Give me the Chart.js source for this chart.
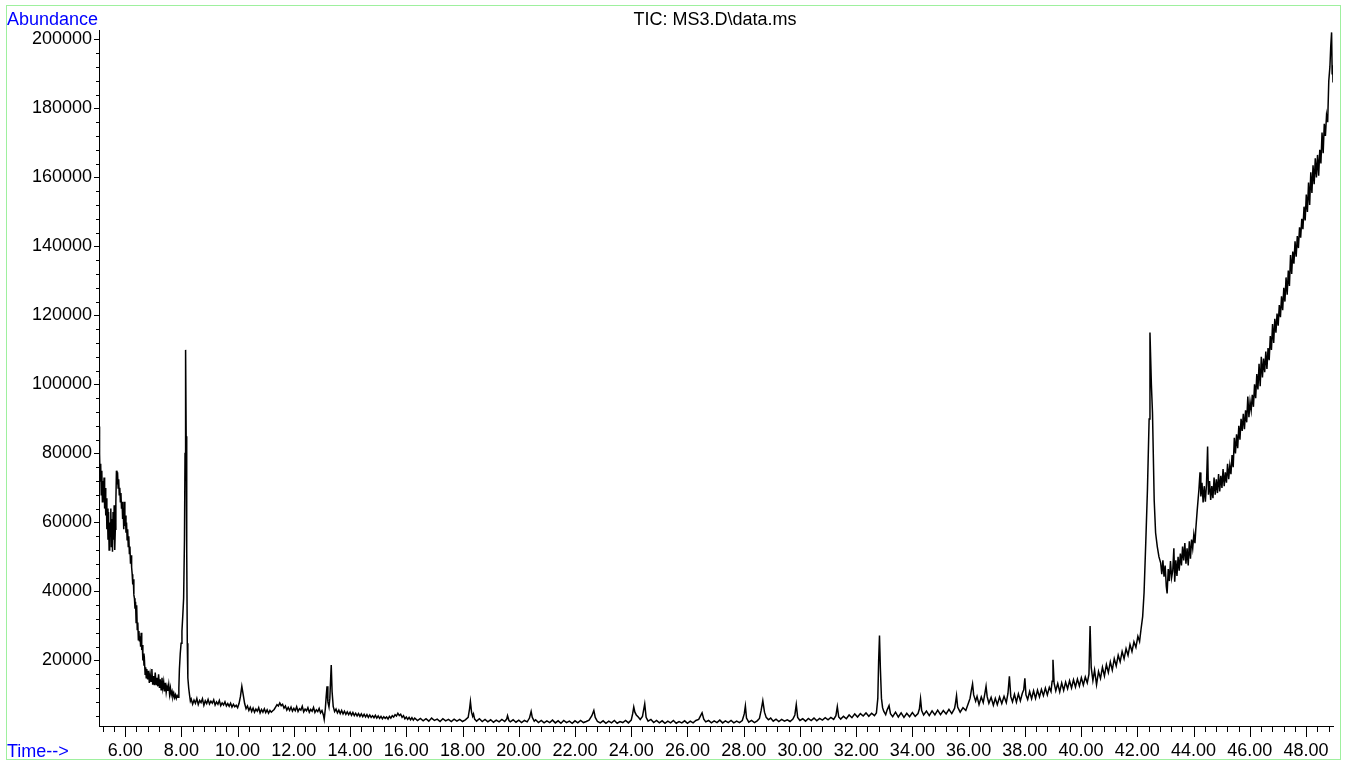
<!DOCTYPE html>
<html>
<head>
<meta charset="utf-8">
<script src="https://cdn.jsdelivr.net/npm/chart.js@4.4.1/dist/chart.umd.min.js"></script>
<style>
  html, body { margin: 0; padding: 0; background: #ffffff; }
  canvas { display: block; }
</style>
</head>
<body>
<canvas id="c" width="1346" height="765"></canvas>
<script>
// ---------------- DATA (retention time [min], abundance) ----------------
const chartTitle = "TIC: MS3.D\\data.ms";
const yAxisTitle = "Abundance";
const xAxisTitle = "Time-->";

const yTickValues = [20000, 40000, 60000, 80000, 100000, 120000, 140000, 160000, 180000, 200000];
const xTickValues = [6, 8, 10, 12, 14, 16, 18, 20, 22, 24, 26, 28, 30, 32, 34, 36, 38, 40, 42, 44, 46, 48];

const solventFront = [
  [5.07,87800],[5.09,80000],[5.11,72000],[5.13,77000],[5.15,68000],[5.17,75000],[5.19,66000],[5.21,72000],
  [5.23,69000],[5.25,73000],[5.27,64000],[5.29,70000],[5.31,62000],[5.33,67000],[5.35,58000],[5.37,64000],
  [5.39,55000],[5.41,63000],[5.43,52000],[5.45,60000],[5.47,56000],[5.49,64000],[5.51,53000],[5.53,61000],
  [5.55,51500],[5.57,63000],[5.59,55000],[5.61,65000],[5.63,52000],[5.65,58000],[5.67,66000],[5.69,75000],
  [5.71,71000],[5.73,74500],[5.75,70000],[5.77,72500],[5.79,68000],[5.81,70000],[5.83,66000],[5.85,68500],
  [5.87,64000],[5.89,66000],[5.91,61000],[5.93,64000],[5.95,58000],[5.97,66000],[5.99,59000],[6.01,62000],
  [6.03,57000],[6.05,60000],[6.07,55000],[6.09,58000],[6.11,53000],[6.13,56000],[6.15,51000],[6.17,53000],
  [6.19,48000],[6.21,50500],[6.23,47000],[6.25,45000],[6.27,42000],[6.29,43500],[6.31,39000],[6.33,38000],
  [6.35,35000],[6.37,37000],[6.39,31000],[6.41,36000],[6.43,29000],[6.45,31000],[6.47,26000],[6.49,28500],
  [6.51,25500],[6.53,27000],[6.55,24000],[6.57,28000],[6.59,23000],[6.61,24500],[6.63,20000],[6.65,22000],
  [6.67,18500],[6.69,19500],[6.71,16000],[6.73,18000],[6.75,15000],[6.77,17500],[6.80,14500],[6.83,17000],
  [6.86,13500],[6.89,16000],[6.92,14000],[6.95,17500],[6.98,13000],[7.01,15500],[7.04,12800],[7.07,16500],
  [7.10,13000],[7.13,15000],[7.16,12500],[7.19,16000],[7.22,12000],[7.25,14500],[7.28,11500],[7.31,15000],
  [7.34,12000],[7.37,13800],[7.40,11000],[7.43,13500],[7.46,10800],[7.49,12500],[7.52,11200],[7.55,13000],
  [7.58,10200],[7.61,12000],[7.64,10000],[7.67,11000],[7.70,9500],[7.73,10500],[7.76,9200],[7.79,10000],
  [7.82,9000],[7.85,9800],[7.88,9300]
];

const earlyRegion = [
  [7.91,12000],[7.93,17500],[7.96,22000],[7.99,25000],[8.02,28500],[8.05,33000],[8.08,38000],[8.11,55000],
  [8.13,80000],[8.15,110000],[8.17,85000],[8.19,52000],[8.21,25000],[8.23,15000],[8.26,12000],[8.29,10000],
  [8.32,8200],[8.35,8800],[8.40,7300],[8.45,8500],[8.50,7600],[8.55,9000],[8.60,7200],[8.65,8400],
  [8.70,7800],[8.75,8900],[8.80,7000],[8.85,8300],[8.90,7500],[8.95,8700],[9.00,7400],[9.05,8200],
  [9.10,7600],[9.15,8600],[9.20,7100],[9.25,8000],[9.30,7300],[9.35,8400],[9.40,6900],[9.45,7700],
  [9.50,7100],[9.55,8000],[9.60,6800],[9.65,7500],[9.70,6700],[9.75,7600],[9.80,6500],[9.85,7300],
  [9.90,6600],[9.95,7000],[10.00,6300],[10.05,7500],[10.10,9500],[10.15,12500],[10.20,10000],[10.25,7500],
  [10.30,6000],[10.35,6800],[10.40,5500],[10.45,6400],[10.50,5200],[10.55,6200],[10.60,5000],[10.65,5900],
  [10.70,5300],[10.75,6300],[10.80,4800],[10.85,5800],[10.90,5000],[10.95,6000],[11.00,4900],[11.05,5700],
  [11.10,4700],[11.15,5500],[11.20,5000],[11.25,5400],[11.30,5800],[11.35,6500],[11.40,7200],[11.45,6800],
  [11.50,7700],[11.55,6900],[11.60,7300],[11.65,6200],[11.70,6800],[11.75,5600],[11.80,6400],[11.85,5500],
  [11.90,6500],[11.95,5300],[12.00,6100],[12.05,5400],[12.10,6600],[12.15,5200],[12.20,6000],[12.25,5600],
  [12.30,6700],[12.35,5100],[12.40,5900],[12.45,5400],[12.50,6300],[12.55,5000],[12.60,5800],[12.65,5300],
  [12.70,6400],[12.75,4900],[12.80,5700],[12.85,5200],[12.90,6100],[12.95,4800],[13.00,5500],[13.05,4200],
  [13.08,2900],[13.12,6000],[13.15,9500],[13.18,12500],[13.21,8000],[13.25,6500],[13.28,9000],[13.31,15000],
  [13.33,18700],[13.36,11000],[13.40,6700],[13.45,5200],[13.50,5900],[13.55,4800],[13.60,5600],[13.65,4600],
  [13.70,5500],[13.75,4500],[13.80,5300],[13.85,4400],[13.90,5100],[13.95,4300],[14.00,5000],[14.05,4100],
  [14.10,4900],[14.15,4000],[14.20,4700],[14.25,3900],[14.30,4600],[14.35,3800],[14.40,4500],[14.45,3700],
  [14.50,4400],[14.55,3600],[14.60,4300],[14.65,3500],[14.70,4200],[14.75,3500],[14.80,4000],[14.85,3400],
  [14.90,4100],[14.95,3300],[15.00,3900],[15.05,3200],[15.10,3800],[15.15,3100],[15.20,3700],[15.25,3200],
  [15.30,3600],[15.35,3000],[15.40,3800],[15.45,3300],[15.50,4000],[15.55,3600],[15.60,4300],[15.65,3900],
  [15.70,4700],[15.75,4000],[15.80,4400],[15.85,3500],[15.90,4000],[15.95,3100],[16.00,3600],[16.05,2900],
  [16.10,3500],[16.15,2800],[16.20,3400],[16.25,2700]
];

const midRegion = [
  [16.30,3300],[16.40,2600],[16.50,3200],[16.60,2500],[16.70,3100],[16.80,2400],[16.90,3300],[17.00,2600],
  [17.10,3000],[17.20,2300],[17.30,3100],[17.40,2500],[17.50,2900],[17.60,2300],[17.70,3000],[17.80,2400],
  [17.90,2900],[18.00,2300],[18.10,2800],[18.20,3500],[18.25,6000],[18.28,8100],[18.32,5000],[18.36,3800],
  [18.39,4500],[18.43,3000],[18.50,2400],[18.60,3100],[18.70,2300],[18.80,2900],[18.90,2200],[19.00,2800],
  [19.10,2100],[19.20,2700],[19.30,2200],[19.40,2900],[19.50,2300],[19.57,3000],[19.60,4000],[19.65,2600],
  [19.70,2200],[19.80,2800],[19.90,2100],[20.00,2700],[20.10,2000],[20.20,2600],[20.30,2200],[20.38,3300],
  [20.44,5200],[20.48,3500],[20.55,2400],[20.60,2800],[20.70,2000],[20.80,2600],[20.90,1900],[21.00,2500],
  [21.10,2000],[21.20,2700],[21.30,1900],[21.40,2500],[21.50,1800],[21.60,2600],[21.70,2000],[21.80,2400],
  [21.90,1800],[22.00,2500],[22.10,1900],[22.20,2600],[22.30,2000],[22.40,2300],[22.50,2700],[22.60,4000],
  [22.67,5500],[22.72,3500],[22.80,2300],[22.90,1900],[23.00,2500],[23.10,1800],[23.20,2400],[23.30,1900],
  [23.40,2600],[23.50,1800],[23.60,2300],[23.70,2000],[23.80,2600],[23.90,1900],[24.00,2700],[24.05,4500],
  [24.09,6500],[24.13,5000],[24.18,4200],[24.25,3600],[24.32,2900],[24.40,3800],[24.48,7400],[24.53,3500],
  [24.60,2400],[24.70,2900],[24.80,2000],[24.90,2600],[25.00,1900],[25.10,2500],[25.20,1800],[25.30,2400],
  [25.40,1900],[25.50,2600],[25.60,1800],[25.70,2300],[25.80,1900],[25.90,2500],[26.00,1800],[26.10,2400],
  [26.20,1900],[26.30,2600],[26.40,2900],[26.52,4800],[26.58,3000],[26.65,2200],[26.75,2600],[26.85,1900],
  [26.95,2500],[27.05,2000],[27.15,2700],[27.25,1900],[27.35,2500],[27.45,2000],[27.55,2600],[27.65,1900],
  [27.75,2400],[27.85,2000],[27.95,2600],[28.02,4500],[28.06,6800],[28.10,3300],[28.18,2100],[28.28,2600],
  [28.38,2000],[28.48,2500],[28.56,3200],[28.62,5500],[28.68,8300],[28.74,5000],[28.80,3500],[28.88,2800],
  [28.96,3300],[29.05,2400],[29.15,3000],[29.25,2300],[29.35,2900],[29.45,2400],[29.55,2800],[29.65,2300],
  [29.75,3000],[29.82,4200],[29.87,7200],[29.92,3500],[30.00,2600],[30.10,3100],[30.20,2400],[30.30,3200],
  [30.40,2600],[30.50,3300],[30.60,2500],[30.70,3200],[30.80,2700],[30.90,3400],[31.00,2800],[31.10,3500],
  [31.20,2900],[31.28,4000],[31.33,6600],[31.38,3600],[31.45,3000],[31.55,3800],[31.65,3100],[31.75,4200],
  [31.85,3400],[31.95,4500],[32.05,3600],[32.15,4600],[32.25,3900],[32.35,4800],[32.45,3800],[32.55,4700],
  [32.65,4000],[32.72,4800],[32.77,9000],[32.80,20000],[32.83,27200],[32.86,18000],[32.90,9000],[32.94,6300],
  [32.98,5300],[33.05,4300],[33.10,5600],[33.17,6900],[33.22,4600],[33.30,3700],[33.40,5000],[33.50,3600],
  [33.60,4800],[33.70,3500],[33.80,4700],[33.90,3700],[34.00,4900],[34.10,3800],[34.20,4600],[34.25,6000],
  [34.29,8900],[34.33,5500],[34.40,4200],[34.50,5300],[34.60,4000],[34.70,5400],[34.80,4200],[34.90,5600],
  [35.00,4300],[35.10,5500],[35.20,4500],[35.30,5800],[35.40,4600],[35.50,6100],[35.53,7500],[35.57,9800],
  [35.61,6500],[35.70,5000],[35.80,6300],[35.90,5500]
];

const lateRegion = [
  [36.00,7800],[36.05,9000],[36.10,11500],[36.14,13200],[36.18,10000],[36.25,8200],[36.30,9600],[36.37,7200],
  [36.45,9400],[36.52,7800],[36.58,10500],[36.62,12500],[36.66,9500],[36.72,7600],[36.80,9300],[36.88,7000],
  [36.95,9000],[37.02,7200],[37.10,9400],[37.18,7500],[37.26,9600],[37.34,7800],[37.40,10500],[37.45,15400],
  [37.50,9500],[37.56,8000],[37.63,10200],[37.70,7900],[37.77,10300],[37.84,8300],[37.91,10500],[37.96,11500],
  [38.00,14800],[38.04,10000],[38.10,8700],[38.17,11000],[38.24,8900],[38.31,11200],[38.38,9000],[38.45,11400],
  [38.52,9400],[38.59,11600],[38.66,9800],[38.73,12000],[38.80,10000],[38.87,12200],[38.93,11000],[38.97,14000],
  [39.00,20200],[39.04,13500],[39.10,11200],[39.17,13300],[39.24,10900],[39.31,13500],[39.38,11300],[39.45,13700],
  [39.52,11800],[39.59,14100],[39.66,12000],[39.73,14400],[39.80,12300],[39.87,14600],[39.94,12600],[40.01,15000],
  [40.08,12900],[40.15,15200],[40.22,13500],[40.28,16000],[40.32,30000],[40.36,18000],[40.42,14200],[40.48,17200],
  [40.55,13000],[40.62,16800],[40.69,14800],[40.76,18000],[40.83,15500],[40.90,18800],[40.97,16500],[41.04,19600],
  [41.11,17200],[41.18,20500],[41.25,18400],[41.32,21500],[41.39,19600],[41.46,22600],[41.53,20500],[41.60,23400],
  [41.67,21500],[41.74,24600],[41.81,22600],[41.88,25400],[41.95,23800],[42.02,27000],[42.08,25500],[42.13,28900],
  [42.19,32700],[42.24,39600],[42.30,54000],[42.36,69400],[42.42,90000],[42.45,115000],[42.50,100000],[42.54,91700],
  [42.60,66500],[42.65,57000],[42.71,53000],[42.77,50000],[42.83,48300],[42.87,45000],[42.91,49000],[42.95,44300],
  [42.99,47500],[43.03,41500],[43.06,39400],[43.10,46500],[43.14,43000],[43.18,48800],[43.22,44000],[43.26,46000],
  [43.30,52500],[43.33,42800],[43.37,49000],[43.41,44500],[43.45,50000],[43.49,46000],[43.53,51000],[43.57,47500],
  [43.61,53000],[43.65,49000],[43.69,54000],[43.73,48000],[43.77,52500],[43.81,47500],[43.85,54500],[43.89,49500],
  [43.93,55000],[43.97,52500],[44.01,56500],[44.05,54000],[44.08,58000],[44.13,63500],[44.19,69400],[44.23,74500],
  [44.26,67500],[44.30,71500],[44.34,65800],[44.38,70500],[44.42,66000],[44.46,71000],[44.50,82000],[44.53,68000],
  [44.57,72000],[44.61,66500],[44.65,70500],[44.69,67000],[44.73,73000],[44.77,68000],[44.81,72500],[44.85,68500],
  [44.89,74000],[44.93,69000],[44.97,73500],[45.01,70000],[45.05,75500],[45.09,70500],[45.13,74500],[45.17,71500],
  [45.21,77000],[45.25,72500],[45.29,76500],[45.33,74000],[45.37,79500],[45.41,76000],[45.45,84500],[45.49,80000],
  [45.53,85500],[45.57,81500],[45.61,88000],[45.65,84000],[45.69,90000],[45.73,86500],[45.77,91500],[45.81,87000],
  [45.85,92500],[45.89,89000],[45.93,96500],[45.97,90500],[46.01,95000],[46.05,92500],[46.09,97000],[46.13,93500],
  [46.17,100000],[46.21,96000],[46.25,103000],[46.29,98500],[46.33,106000],[46.37,99500],[46.41,108000],[46.45,102000],
  [46.49,107500],[46.53,103500],[46.57,109500],[46.61,104500],[46.65,110500],[46.69,107000],[46.73,114000],[46.77,110000],
  [46.81,117500],[46.85,112000],[46.89,119000],[46.93,115000],[46.97,120500],[47.01,117000],[47.05,123000],[47.09,119500],
  [47.13,125500],[47.17,121500],[47.21,128000],[47.25,124000],[47.29,131000],[47.33,126000],[47.37,133000],[47.41,128500],
  [47.45,137500],[47.49,132000],[47.53,138500],[47.57,135000],[47.61,141500],[47.65,137000],[47.69,143000],[47.73,139500],
  [47.77,145500],[47.81,142500],[47.85,148000],[47.89,145000],[47.93,151500],[47.97,147500],[48.01,155000],[48.05,150000],
  [48.09,158500],[48.13,152000],[48.17,161500],[48.21,155500],[48.25,163500],[48.29,158000],[48.33,165500],[48.37,160000],
  [48.41,166500],[48.45,160500],[48.49,168000],[48.53,164000],[48.57,173000],[48.61,167000],[48.65,175500],[48.69,172000],
  [48.73,178000],[48.77,176000],[48.81,188000],[48.85,192000],[48.88,198000],[48.91,202000],[48.93,190000],[48.95,192500],
  [48.96,187500]
];

// ---------------- CHART ----------------
const FONT = '"Liberation Sans", Arial, Helvetica, sans-serif';
const allPoints = [].concat(solventFront, earlyRegion, midRegion, lateRegion).map(p => ({ x: p[0], y: p[1] }));

const frameAndTicks = {
  id: 'frameAndTicks',
  beforeDraw(chart) {
    const ctx = chart.ctx;
    ctx.save();
    ctx.fillStyle = '#ffffff';
    ctx.fillRect(0, 0, chart.width, chart.height);
    ctx.restore();
  },
  afterDraw(chart) {
    const ctx = chart.ctx;
    const xs = chart.scales.x, ys = chart.scales.y;
    const area = chart.chartArea;
    ctx.save();
    // green frame
    ctx.strokeStyle = '#9ef09e';
    ctx.lineWidth = 1;
    ctx.strokeRect(6.5, 5.5, 1334, 754);
    // tick marks
    ctx.strokeStyle = '#000000';
    ctx.lineWidth = 1;
    ctx.beginPath();
    for (let v = 4000; v <= ys.max; v += 4000) {
      const py = Math.round(ys.getPixelForValue(v)) + 0.5;
      const major = v % 20000 === 0;
      ctx.moveTo(area.left - (major ? 5 : 3), py);
      ctx.lineTo(area.left, py);
    }
    for (let k = 0; ; k++) {
      const t = 5.2 + k * 0.4;
      if (t > xs.max) break;
      const px = Math.round(xs.getPixelForValue(t)) + 0.5;
      const major = Math.abs(t / 2 - Math.round(t / 2)) < 1e-6;
      ctx.moveTo(px, area.bottom);
      ctx.lineTo(px, area.bottom + (major ? 11 : 6));
    }
    ctx.stroke();
    // texts
    ctx.font = '18px ' + FONT;
    ctx.textBaseline = 'alphabetic';
    ctx.fillStyle = '#0000ff';
    ctx.textAlign = 'left';
    ctx.fillText(yAxisTitle, 7, 25);
    ctx.fillText(xAxisTitle, 7, 757);
    ctx.fillStyle = '#000000';
    ctx.textAlign = 'center';
    ctx.fillText(chartTitle, 715, 25);
    ctx.restore();
  }
};

new Chart(document.getElementById('c'), {
  type: 'line',
  data: {
    datasets: [{
      data: allPoints,
      borderColor: '#000000',
      borderWidth: 1.5,
      borderJoinStyle: 'miter',
      pointRadius: 0,
      tension: 0,
      fill: false
    }]
  },
  options: {
    responsive: false,
    animation: false,
    events: [],
    parsing: false,
    normalized: true,
    layout: { padding: { left: 0, right: 13, top: 30, bottom: 0 } },
    plugins: { legend: { display: false }, tooltip: { enabled: false }, title: { display: false } },
    scales: {
      x: {
        type: 'linear',
        min: 5.07,
        max: 48.96,
        grid: { display: false, drawTicks: false, tickLength: 0 },
        border: { display: true, color: '#000000', width: 1 },
        afterBuildTicks: s => { s.ticks = xTickValues.map(v => ({ value: v })); },
        afterFit: s => { s.height = 39; },
        ticks: {
          autoSkip: false,
          maxRotation: 0,
          padding: 14,
          color: '#000000',
          font: { family: FONT, size: 18 },
          callback: v => Number(v).toFixed(2)
        }
      },
      y: {
        type: 'linear',
        min: 1000,
        max: 202700,
        grid: { display: false, drawTicks: false, tickLength: 0 },
        border: { display: true, color: '#000000', width: 1 },
        afterBuildTicks: s => { s.ticks = yTickValues.map(v => ({ value: v })); },
        afterFit: s => { s.width = 99; },
        ticks: {
          autoSkip: false,
          padding: 7,
          color: '#000000',
          font: { family: FONT, size: 18 },
          callback: v => String(v)
        }
      }
    }
  },
  plugins: [frameAndTicks]
});
</script>
</body>
</html>
